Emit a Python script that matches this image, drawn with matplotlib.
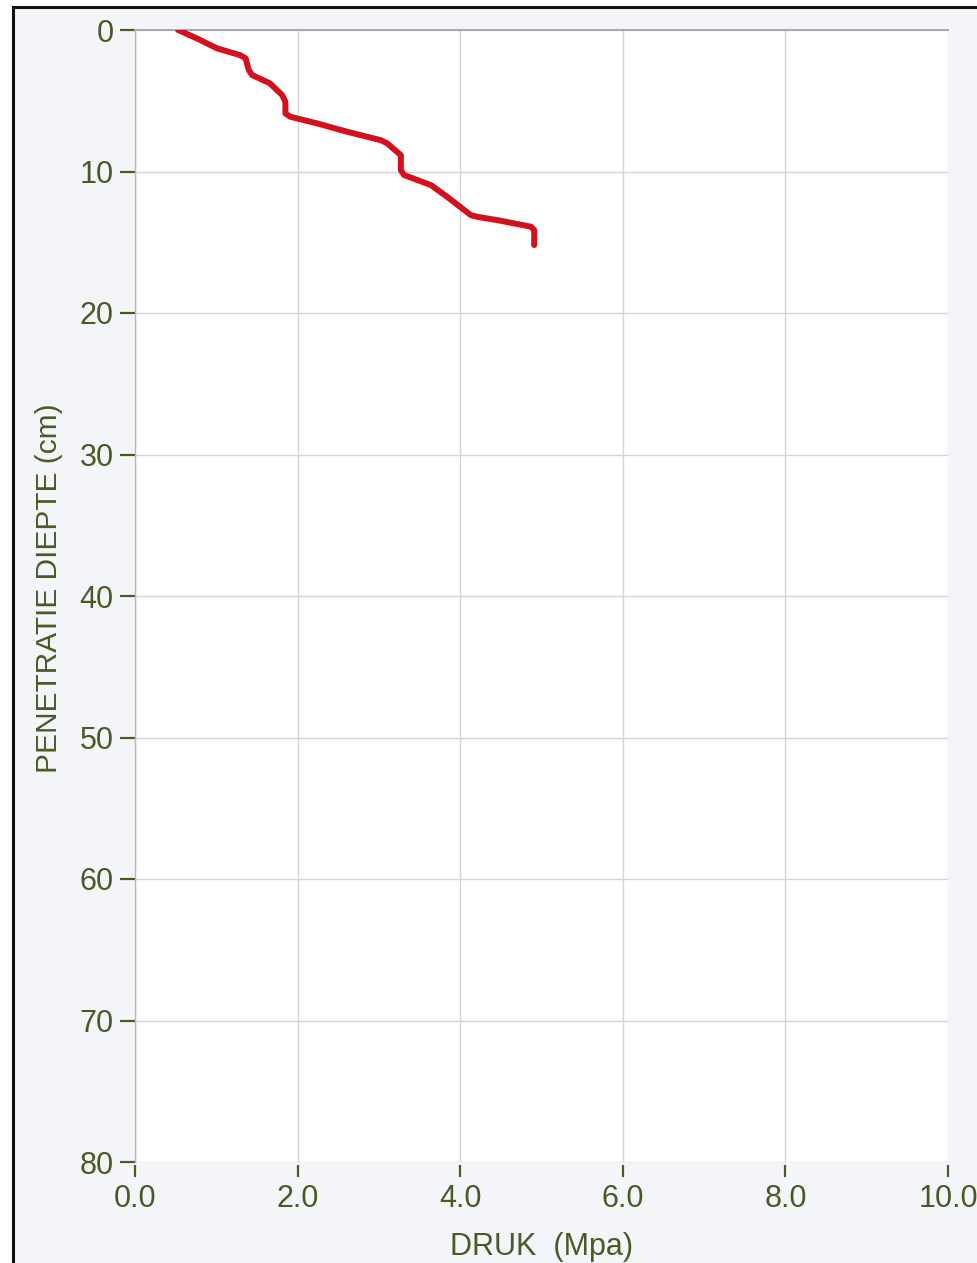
import matplotlib
matplotlib.use("Agg")
import matplotlib.pyplot as plt
from matplotlib.lines import Line2D
from matplotlib.patches import Rectangle

# Data
druk = [0.53, 0.76, 1.01, 1.29, 1.36, 1.40, 1.44, 1.66, 1.81, 1.85, 1.85, 1.91,
        2.24, 2.61, 3.02, 3.10, 3.27, 3.27, 3.31, 3.64, 3.84, 4.13, 4.21, 4.46,
        4.87, 4.91, 4.91]
diepte = [0.0, 0.59, 1.30, 1.77, 2.00, 2.83, 3.18, 3.77, 4.60, 5.07, 5.90, 6.13,
          6.60, 7.19, 7.78, 8.00, 8.84, 9.90, 10.25, 10.96, 11.79, 13.08, 13.20, 13.44,
          13.90, 14.14, 15.20]
x_ticks = [0, 2, 4, 6, 8, 10]
x_tick_labels = ["0.0", "2.0", "4.0", "6.0", "8.0", "10.0"]
y_ticks = [0, 10, 20, 30, 40, 50, 60, 70, 80]
y_tick_labels = ["0", "10", "20", "30", "40", "50", "60", "70", "80"]
x_label = "DRUK  (Mpa)"
y_label = "PENETRATIE DIEPTE (cm)"

plt.rcParams['font.family'] = ['Liberation Sans', 'DejaVu Sans']

W, H = 977, 1263
fig = plt.figure(figsize=(W / 100, H / 100), dpi=100, facecolor='white')

# light grey panel with black left/top border
bx, by = 13 / W, 1 - 7 / H
fig.patches.append(Rectangle((bx, 0), 1 - bx, by, transform=fig.transFigure,
                             facecolor='#f4f5f8', edgecolor='none', zorder=-3))
fig.lines.append(Line2D([bx, bx], [0, by], transform=fig.transFigure,
                        color='#111111', lw=2.2, zorder=-2))
fig.lines.append(Line2D([bx, 1], [by, by], transform=fig.transFigure,
                        color='#111111', lw=2.2, zorder=-2))

left, right = 135 / W, 948 / W
top, bottom = 1 - 30 / H, 1 - 1162 / H
ax = fig.add_axes([left, bottom, right - left, top - bottom])
ax.set_facecolor('white')

txt = '#4a5a26'

ax.plot(druk, diepte, color='#d2111d', lw=4.3, solid_joinstyle='round',
        solid_capstyle='round', zorder=3)

ax.set_xlim(0, 10)
ax.set_ylim(80, 0)
ax.set_xticks(x_ticks)
ax.set_xticklabels(x_tick_labels)
ax.set_yticks(y_ticks)
ax.set_yticklabels(y_tick_labels)

ax.grid(True, color='#d4d4d4', lw=1.0, zorder=1)
ax.set_axisbelow(True)

for s in ['right', 'bottom']:
    ax.spines[s].set_visible(False)
ax.spines['bottom'].set_position(('outward', 2.5))
ax.spines['top'].set_color('#a8a8a8')
ax.spines['top'].set_linewidth(1.4)
ax.spines['left'].set_color('#b8b8b8')
ax.spines['left'].set_linewidth(1.0)

ax.tick_params(axis='y', direction='out', length=10.5, width=1.6, color=txt,
               labelcolor=txt, labelsize=22, pad=5)
ax.tick_params(axis='x', direction='out', length=8.5, width=1.6, color=txt,
               labelcolor=txt, labelsize=22, pad=4.5)

ax.set_xlabel(x_label, color=txt, fontsize=22, labelpad=13)
ax.set_ylabel(y_label, color=txt, fontsize=21.5)
ax.yaxis.set_label_coords(-0.088, 0.507)

fig.savefig('out.png', dpi=100, facecolor=fig.get_facecolor())
